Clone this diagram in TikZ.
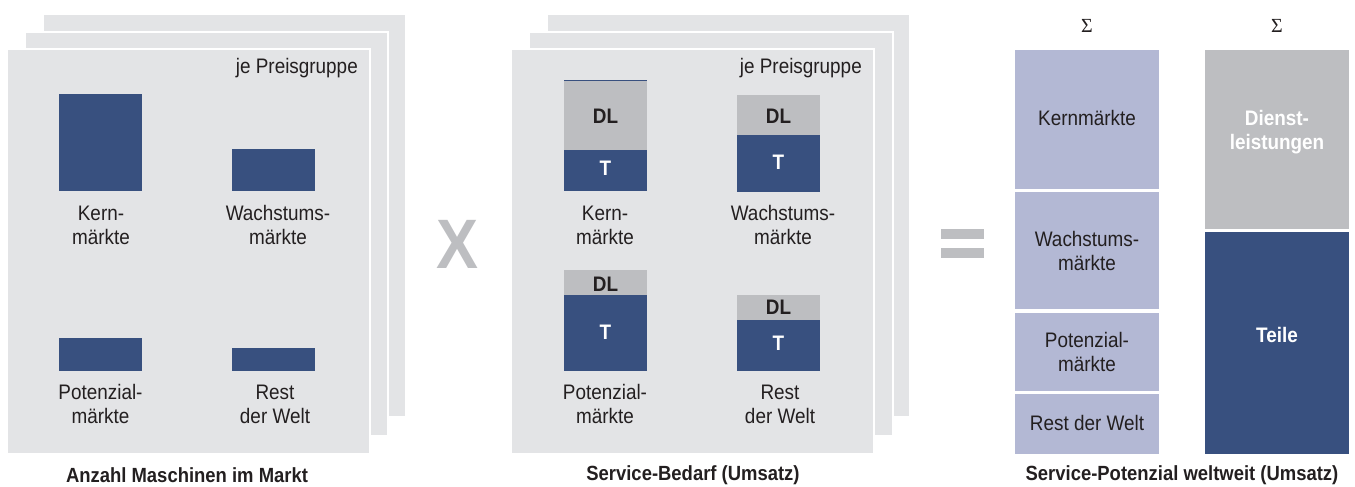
\documentclass[tikz,border=0pt]{standalone}
\usepackage{fontspec}
\setmainfont{Liberation Sans}[FakeStretch=0.9]
\newfontfamily\sumfont{Liberation Serif}
\definecolor{navy}{HTML}{38507F}
\definecolor{dlgray}{HTML}{BDBEC1}
\definecolor{panelgray}{HTML}{E3E4E6}
\definecolor{lavender}{HTML}{B3B8D4}
\definecolor{ink}{HTML}{231F20}
\begin{document}
\begin{tikzpicture}[x=1pt,y=-1pt,
  panel/.style={fill=panelgray,draw=white,line width=1.5pt},
  lbl/.style={align=center,text=ink,inner sep=0pt,font=\fontsize{21}{24}\selectfont},
  tag/.style={anchor=east,text=ink,inner sep=0pt,font=\fontsize{21}{24}\selectfont},
  dltxt/.style={text=ink,inner sep=0pt,font=\bfseries\fontsize{21}{24}\selectfont},
  ttxt/.style={text=white,inner sep=0pt,font=\bfseries\fontsize{21}{24}\selectfont},
  title/.style={text=ink,inner sep=0pt,font=\bfseries\fontsize{20.5}{24}\selectfont},
  sumsign/.style={text=ink,inner sep=0pt,font=\sumfont\fontsize{20}{22}\selectfont}]
\useasboundingbox (0,0) rectangle (1355,487);

% ---------- stacked panels: machines per market ----------
\path[panel] (43,14) rectangle (406,417);
\path[panel] (25,32) rectangle (388,436);
\path[panel] (7,49) rectangle (370,454);
\node[tag] (pg1) at (358,68) {je Preisgruppe};

\fill[navy] (59,94) rectangle (142,191);
\fill[navy] (232,149) rectangle (315,191);
\fill[navy] (59,338) rectangle (142,371);
\fill[navy] (232,348) rectangle (315,371);

\node[lbl] (m1) at (101,225) {Kern-\\märkte};
\node[lbl] (m2) at (278,225) {Wachstums-\\märkte};
\node[lbl] (m3) at (100.5,404) {Potenzial-\\märkte};
\node[lbl] (m4) at (275,404) {Rest\\der Welt};
\node[title] (t1) at (187,475) {Anzahl Maschinen im Markt};

% ---------- multiplication sign ----------
\node[text=dlgray,inner sep=0pt,font=\bfseries\fontsize{70}{70}\selectfont] (times) at (458,244) {X};

% ---------- stacked panels: service demand ----------
\path[panel] (547,14) rectangle (910,417);
\path[panel] (529,32) rectangle (893,436);
\path[panel] (511,49) rectangle (874,454);
\node[tag] (pg2) at (862,68) {je Preisgruppe};

% core markets
\fill[dlgray] (564,81) rectangle (647,150);
\fill[navy] (564,150) rectangle (647,191);
\draw[navy,line width=1pt] (564,81) -- (647,81);
\node[dltxt] (dl1) at (605.5,116) {DL};
\node[ttxt] (tt1) at (605.5,168) {T};
% growth markets
\fill[dlgray] (737,95) rectangle (820,135);
\fill[navy] (737,135) rectangle (820,192);
\node[dltxt] (dl2) at (778.5,116) {DL};
\node[ttxt] (tt2) at (778.5,162) {T};
% potential markets
\fill[dlgray] (564,270) rectangle (647,295);
\fill[navy] (564,295) rectangle (647,371);
\node[dltxt] (dl3) at (605.5,284) {DL};
\node[ttxt] (tt3) at (605.5,332) {T};
% rest of the world
\fill[dlgray] (737,295) rectangle (820,320);
\fill[navy] (737,320) rectangle (820,371);
\node[dltxt] (dl4) at (778.5,307) {DL};
\node[ttxt] (tt4) at (778.5,343) {T};

\node[lbl] (s1) at (605,225) {Kern-\\märkte};
\node[lbl] (s2) at (783,225) {Wachstums-\\märkte};
\node[lbl] (s3) at (605,404) {Potenzial-\\märkte};
\node[lbl] (s4) at (780,404) {Rest\\der Welt};
\node[title] (t2) at (693,475) {Service-Bedarf (Umsatz)};

% ---------- equals sign ----------
\fill[dlgray] (941,229) rectangle (984,239);
\fill[dlgray] (941,248) rectangle (984,258);

% ---------- worldwide totals ----------
\node[sumsign] (sig1) at (1087,26) {Σ};
\node[sumsign] (sig2) at (1277,26) {Σ};

\fill[lavender] (1015,50) rectangle (1159,189);
\fill[lavender] (1015,192) rectangle (1159,309);
\fill[lavender] (1015,313) rectangle (1159,391);
\fill[lavender] (1015,394) rectangle (1159,454);
\node[lbl] (w1) at (1087,118) {Kernmärkte};
\node[lbl] (w2) at (1087,251) {Wachstums-\\märkte};
\node[lbl] (w3) at (1087,352) {Potenzial-\\märkte};
\node[lbl] (w4) at (1087,423) {Rest der Welt};

\fill[dlgray] (1205,50) rectangle (1349,229);
\fill[navy] (1205,232) rectangle (1349,454);
\node[ttxt,align=center] (dienst) at (1277,132) {Dienst-\\leistungen};
\node[ttxt] (teile) at (1277,335) {Teile};

\node[title] (t3) at (1182,475) {Service-Potenzial weltweit (Umsatz)};
\end{tikzpicture}
\end{document}
